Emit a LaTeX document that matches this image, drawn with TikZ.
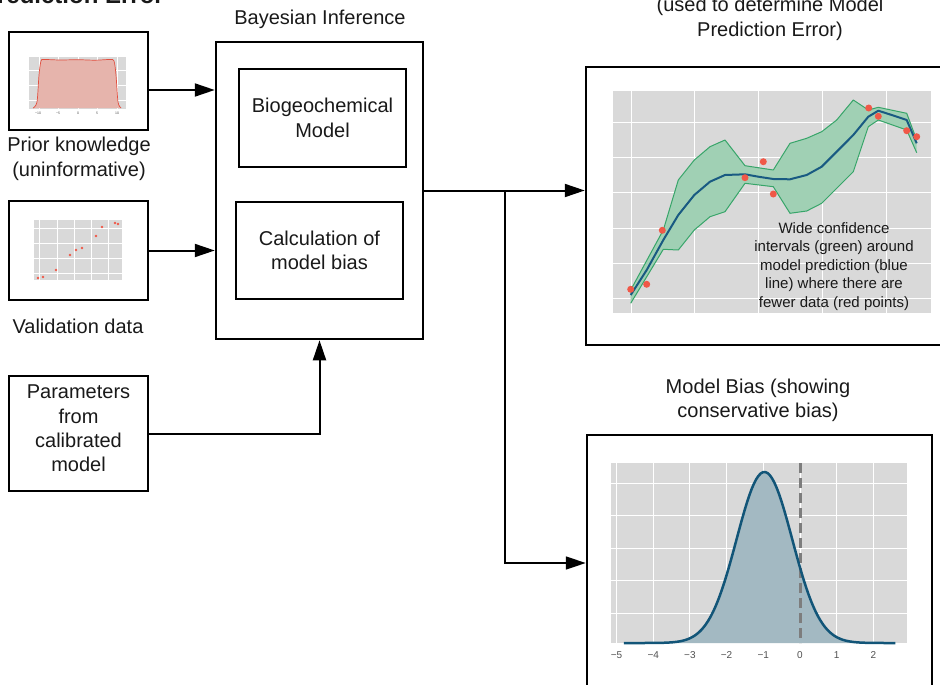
\documentclass[tikz,border=0pt]{standalone}
\usepackage{fontspec}
\setmainfont{Liberation Sans}
\usetikzlibrary{arrows.meta}
\definecolor{panel}{RGB}{217,217,217}
\definecolor{bandfill}{RGB}{160,208,180}
\definecolor{bandline}{RGB}{55,165,105}
\definecolor{predline}{RGB}{25,90,130}
\definecolor{datapt}{RGB}{240,88,72}
\definecolor{biasfill}{RGB}{163,185,194}
\definecolor{biasline}{RGB}{18,85,120}
\definecolor{priorfill}{RGB}{230,180,172}
\definecolor{priorline}{RGB}{226,80,64}
\definecolor{ink}{RGB}{25,25,25}
\definecolor{ticktext}{RGB}{80,80,80}
\definecolor{zeroline}{RGB}{125,125,125}
\tikzset{
  txt/.style={font=\fontsize{20}{24.4}\selectfont, text=ink, inner sep=0pt, align=center},
  frame/.style={draw, line width=2.5pt, inner sep=0pt},
  subframe/.style={draw, line width=2pt, inner sep=0pt, txt},
  arr/.style={line width=2pt, -{Triangle[length=20pt,width=13pt]}},
  thinarr/.style={line width=1.5pt, -{Triangle[length=20pt,width=13pt]}},
  grid/.style={white, line width=1pt},
  tick/.style={font=\fontsize{10}{11}\selectfont, text=ticktext, inner sep=0pt},
  tinytick/.style={font=\fontsize{3.5}{4}\selectfont, text=ticktext, inner sep=0pt},
}
\begin{document}
\begin{tikzpicture}[x=1pt,y=-1pt]
\useasboundingbox (0,0) rectangle (940,685);

% cropped titles
\node[anchor=base east, font=\bfseries\fontsize{24}{28}\selectfont, text=ink, inner sep=0pt] (lefttitle) at (164,4) {Prediction Error};
\node[txt] (predtitle) at (770,19) {(used to determine Model\\Prediction Error)};

% ---------- Prior knowledge ----------
\node[frame, minimum width=139pt, minimum height=98pt] (prior) at (78.5,81) {};
\fill[panel] (29,57) rectangle (126,109);
\foreach \gx in {39,58,78,97,117} \draw[grid, line width=0.5pt] (\gx,57) -- (\gx,109);
\foreach \gy in {70,85,100} \draw[grid, line width=0.5pt] (29,\gy) -- (126,\gy);
\fill[priorfill] plot[smooth] coordinates {(33,108) (37,102) (39,75) (41,61) (44,59.5) (60,60) (78,59.7) (95,60.2) (110,59.5) (114,61) (116,75) (118,102) (121,108)} -- cycle;
\draw[priorline, line width=0.7pt] plot[smooth] coordinates {(33,108) (37,102) (39,75) (41,61) (44,59.5) (60,60) (78,59.7) (95,60.2) (110,59.5) (114,61) (116,75) (118,102) (121,108)};
\foreach \tx/\tl in {38/−10,58/−5,78/0,97/5,117/10} \node[tinytick] at (\tx,113) {\tl};
\node[txt] (priorlabel) at (79,159) {Prior knowledge\\(uninformative)};

% ---------- Validation data ----------
\node[frame, minimum width=139pt, minimum height=99pt] (valid) at (78.5,250.5) {};
\fill[panel] (34,220) rectangle (122,280);
\foreach \gx in {39,57,74,91,108} \draw[grid, line width=0.4pt] (\gx,220) -- (\gx,280);
\foreach \gy in {228,243,258,273} \draw[grid, line width=0.4pt] (34,\gy) -- (122,\gy);
\foreach \px/\py in {38/278,43/277,56/270,70/255,76/250,82/248,96/236,102/227,115/223,118/224}
  \fill[datapt] (\px,\py) circle (1.4pt);
\node[txt] (validlabel) at (78,326) {Validation data};

% ---------- Parameters ----------
\node[frame, line width=2pt, minimum width=139pt, minimum height=115pt] (params) at (78.5,433.5) {};
\node[txt] (paramstext) at (78.5,428.5) {Parameters\\from\\calibrated\\model};

% ---------- Bayesian Inference ----------
\node[txt] (bayestitle) at (320,19.5) {Bayesian Inference};
\node[frame, minimum width=207pt, minimum height=297pt] (bayes) at (319.5,190.5) {};
\node[subframe, minimum width=167pt, minimum height=98pt] (bio) at (322.5,118) {Biogeochemical\\Model};
\node[subframe, minimum width=167pt, minimum height=97pt] (calc) at (319.5,250.5) {Calculation of\\model bias};

% ---------- Prediction plot ----------
\node[frame, minimum width=374pt, minimum height=278pt] (pred) at (773,206) {};
\fill[panel] (613,91) rectangle (931,313);
\foreach \gx in {631,694,758,822,886} \draw[grid] (\gx,91) -- (\gx,313);
\foreach \gy in {122,157,192,228,263,298} \draw[grid] (613,\gy) -- (931,\gy);
\fill[bandfill] plot coordinates {(630.7,290) (663.3,230) (678.3,180) (694.3,160) (710,146.7) (725,140) (745,165.7) (773.3,170) (790,143.3) (806.7,138.3) (821.7,131.7) (836.7,120) (853.3,100) (868.3,110) (878.3,107.3) (906.7,113.3) (916.7,140)}
  -- plot coordinates {(916.7,152.7) (906.7,130) (878.3,120) (868.3,126.7) (853.3,171.7) (836.7,188.3) (821.7,203.3) (806.7,211) (790,213.3) (773.3,186.7) (745,183.3) (725,211.7) (710,216.7) (694.3,230) (678.3,250) (663.3,249.3) (630.7,303.3)} -- cycle;
\draw[bandline, line width=1pt, line join=round] plot coordinates {(630.7,290) (663.3,230) (678.3,180) (694.3,160) (710,146.7) (725,140) (745,165.7) (773.3,170) (790,143.3) (806.7,138.3) (821.7,131.7) (836.7,120) (853.3,100) (868.3,110) (878.3,107.3) (906.7,113.3) (916.7,140)};
\draw[bandline, line width=1pt, line join=round] plot coordinates {(916.7,152.7) (906.7,130) (878.3,120) (868.3,126.7) (853.3,171.7) (836.7,188.3) (821.7,203.3) (806.7,211) (790,213.3) (773.3,186.7) (745,183.3) (725,211.7) (710,216.7) (694.3,230) (678.3,250) (663.3,249.3) (630.7,303.3)};
\draw[predline, line width=2pt, line join=round] plot coordinates {(630.7,295) (646.7,270) (663.3,240) (678.3,215) (694.3,195) (710,181.7) (725,175) (745,174.3) (758.3,176.7) (773.3,179) (790,179.3) (806.7,175) (821.7,166.7) (836.7,151.7) (853.3,135) (868.3,116.7) (878.3,110.7) (891.7,115) (906.7,120) (916.7,143.3)};
\foreach \px/\py in {630.7/289.3,646.7/284.3,662.3/230.3,745/177.7,763.3/161.7,773.3/194,868.7/108,878.3/116.3,906.7/130.7,916.7/136.7}
  \fill[datapt] (\px,\py) circle (3.5pt);
\node[font=\fontsize{15}{18.4}\selectfont, text=ink, align=center, inner sep=0pt] (prednote) at (834,266.5) {Wide confidence\\intervals (green) around\\model prediction (blue\\line) where there are\\fewer data (red points)};

% ---------- Bias plot ----------
\node[txt] (biastitle) at (758,400.5) {Model Bias (showing\\conservative bias)};
\node[frame, minimum width=345pt, minimum height=265pt] (bias) at (759.5,567.5) {};
\fill[panel] (611,463) rectangle (907,643);
\foreach \v in {-5,...,2} \draw[grid] ({800+36.7*\v},463) -- ({800+36.7*\v},643);
\foreach \gy in {483,515,548,580,613} \draw[grid] (611,\gy) -- (907,\gy);
\fill[biasfill] plot[domain=-4.8:2.6, samples=120] ({800+36.7*\x},{643-171*exp(-((\x+0.97)*(\x+0.97))/1.15)}) -- cycle;
\draw[zeroline, line width=3pt, dash pattern=on 10pt off 5pt] (800,463) -- (800,643);
\draw[biasline, line width=2.5pt, line join=round] plot[domain=-4.8:2.6, samples=120] ({800+36.7*\x},{643-171*exp(-((\x+0.97)*(\x+0.97))/1.15)});
\foreach \v/\tl in {-5/−5,-4/−4,-3/−3,-2/−2,-1/−1,0/0,1/1,2/2} \node[tick] at ({800+36.7*\v},655.5) {\tl};

% ---------- connectors ----------
\draw[arr] (prior.east |- 0,90) -- (bayes.west |- 0,90);
\draw[arr] (valid.east) -- (valid.east -| bayes.west);
\draw[arr] (params.east) -| (bayes.south);
\draw[arr] (bayes.east) -- (bayes.east -| pred.west);
\coordinate (branch) at (505,190.5);
\draw[thinarr] (branch) |- (bias.west |- 0,563);
\end{tikzpicture}
\end{document}
